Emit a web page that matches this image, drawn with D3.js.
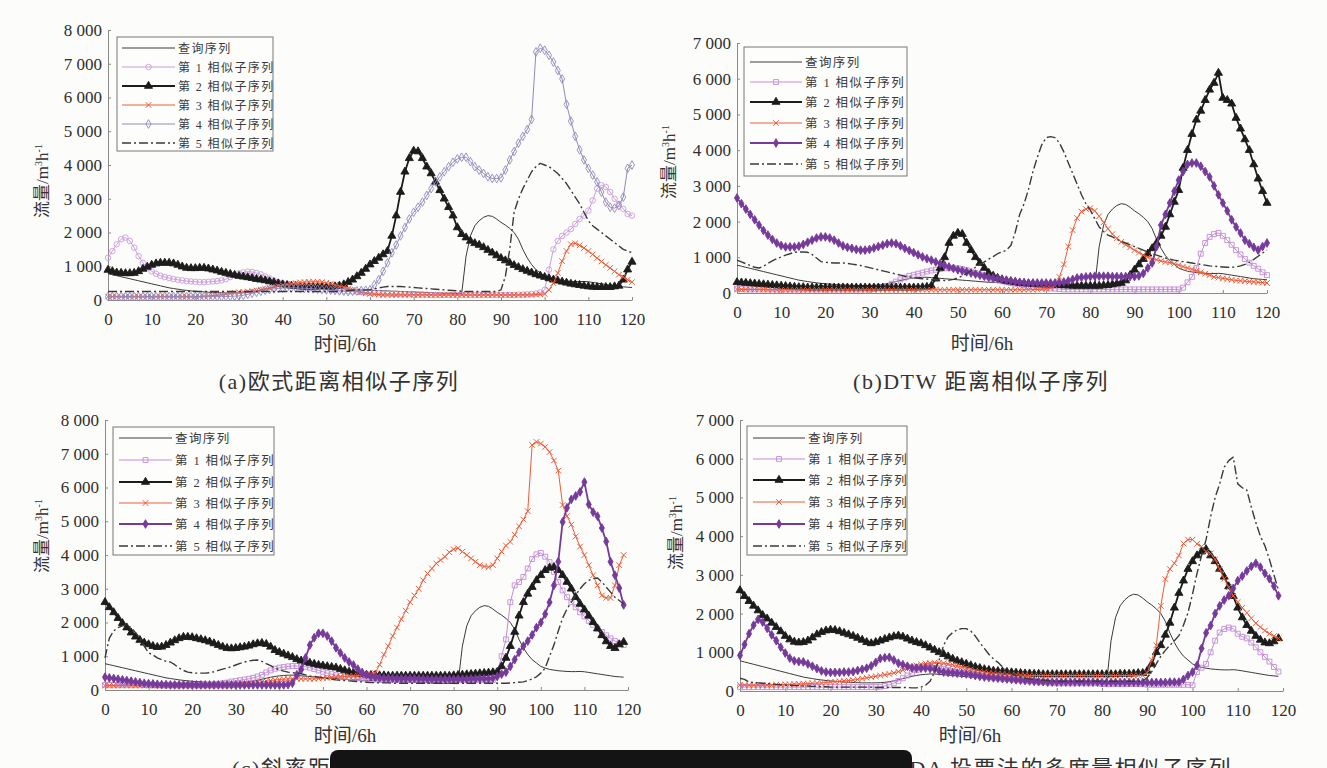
<!DOCTYPE html>
<html><head><meta charset="utf-8">
<script src="https://cdn.jsdelivr.net/npm/d3@7"></script>
<style>body{margin:0;background:#fcfcfa}svg{display:block}</style>
</head><body>
<svg id="chart" width="1327" height="768"></svg>
<script>
// ---------- data ----------
const xTicks = [0,10,20,30,40,50,60,70,80,90,100,110,120];
const yTicks8 = [0,1000,2000,3000,4000,5000,6000,7000,8000];
const yTicks7 = [0,1000,2000,3000,4000,5000,6000,7000];
const legendLabels = ["查询序列","第 1 相似子序列","第 2 相似子序列","第 3 相似子序列","第 4 相似子序列","第 5 相似子序列"];
const captions = ["(a)欧式距离相似子序列","(b)DTW 距离相似子序列","(c)斜率距离相似子序列","(d)LDA 投票法的多度量相似子序列"];
const xTitle = "时间/6h";

const query = [780,750,720,690,660,630,600,570,540,510,
480,450,420,390,360,340,320,300,285,270,
260,250,240,230,225,220,215,210,210,210,
210,215,225,240,260,290,320,350,380,400,
420,430,440,440,430,420,410,400,390,380,
370,360,350,340,330,320,310,300,300,290,
290,280,280,270,270,260,260,250,250,240,
240,230,230,220,220,210,210,200,200,200,
190,190,1300,1900,2200,2350,2450,2500,2480,2400,
2300,2220,2120,2000,1800,1500,1250,1050,900,800,
700,650,610,590,570,560,550,545,545,550,
540,520,500,480,460,440,420,400,390,380,370];

const a1 = [1250,1450,1650,1800,1850,1750,1550,1300,1100,950,
850,780,720,680,650,620,600,580,560,550,
540,530,530,540,550,560,580,620,680,740,
790,820,840,830,800,760,700,640,580,530,
490,460,430,410,390,370,350,340,330,320,
310,300,290,280,270,260,250,240,230,220,
210,200,200,190,190,180,180,170,170,170,
160,160,160,160,150,150,150,150,150,150,
150,150,150,150,150,150,150,150,150,150,
150,150,150,150,160,160,170,180,190,220,
300,900,1500,1750,1900,2000,2100,2250,2400,2500,
2650,2950,3300,3400,3350,3200,3000,2850,2700,2550,2500];
const a2 = [890,850,810,800,790,790,800,850,920,980,
1040,1080,1100,1100,1100,1080,1040,990,950,940,
940,950,950,930,900,870,830,800,770,740,
710,690,670,650,620,600,580,550,520,490,
460,440,420,410,400,390,390,380,380,380,
380,390,400,420,460,530,600,700,800,920,
1050,1150,1250,1350,1450,1900,2500,3200,3800,4200,
4420,4400,4200,3950,3750,3500,3250,3000,2750,2500,
2150,1950,1850,1750,1680,1630,1560,1480,1400,1320,
1240,1170,1100,1030,970,910,860,810,760,720,
680,640,600,570,540,510,480,460,440,420,
400,390,380,380,380,380,400,420,600,900,1130];
const a3 = [100,100,100,100,100,100,100,100,100,100,
100,100,100,100,100,100,100,100,100,100,
100,100,110,120,130,140,150,170,190,210,
230,240,250,260,280,300,330,360,390,420,
440,460,480,500,520,530,540,540,540,530,
510,480,450,410,380,340,300,260,230,200,
180,170,160,150,150,150,150,150,150,150,
150,150,150,150,150,150,150,150,150,150,
150,150,150,150,150,150,150,150,150,150,
150,150,150,150,150,150,150,150,160,170,
180,300,500,800,1150,1450,1650,1680,1620,1540,
1450,1350,1240,1140,1040,950,850,750,680,600,530];
const a4 = [100,100,100,100,100,100,100,100,100,100,
100,100,100,100,100,100,100,100,100,100,
100,100,100,100,100,100,100,100,110,115,
120,140,170,200,230,260,290,310,330,340,
350,360,360,360,350,350,340,330,320,310,
300,290,280,270,260,250,260,270,280,290,
300,450,600,850,1100,1400,1630,1900,2150,2400,
2600,2750,2900,3100,3300,3500,3650,3800,3950,4080,
4180,4230,4230,4100,3950,3850,3750,3650,3600,3600,
3620,3850,4150,4400,4650,4850,5050,5350,7350,7460,
7400,7250,7050,6800,6550,5800,5300,4850,4450,4150,
3900,3700,3500,3200,2900,2750,2720,2800,3050,3900,4000];
const a5 = [250,250,250,250,250,250,250,250,250,250,
250,250,250,250,250,250,250,250,250,250,
250,250,250,250,250,250,250,250,250,250,
250,250,250,250,250,250,250,250,250,250,
250,250,250,250,250,250,250,250,250,250,
250,250,250,260,270,280,290,300,300,300,
300,330,360,380,400,400,400,400,390,380,
370,360,350,340,330,320,310,300,290,280,
270,260,250,250,250,250,250,250,250,250,
300,700,1500,2600,3000,3300,3550,3800,3950,4050,
4000,3950,3850,3750,3600,3450,3250,3050,2850,2600,
2350,2200,2100,2000,1900,1800,1700,1600,1500,1450,1400];

const b1 = [120,110,100,100,100,100,100,100,100,100,
100,100,100,100,100,100,100,100,100,100,
100,100,100,100,100,100,100,100,100,100,
100,110,130,160,200,260,320,380,430,480,
510,540,570,600,630,650,670,690,700,700,
690,670,640,600,560,520,480,440,400,360,
330,300,280,260,240,220,200,180,160,150,
140,130,120,110,100,100,100,100,100,100,
100,100,100,100,100,100,100,100,100,100,
100,100,100,100,100,100,100,100,100,100,
100,150,300,450,700,1100,1400,1570,1650,1680,
1600,1480,1350,1200,1080,950,850,760,680,580,500];
const b2 = [300,290,280,270,260,250,240,230,220,210,
200,190,180,170,160,160,150,150,150,150,
150,150,150,150,150,150,150,150,150,150,
150,150,150,150,150,150,150,150,150,150,
150,150,160,170,200,400,700,1000,1400,1600,
1680,1650,1400,1200,1000,840,700,560,480,420,
380,340,320,300,280,270,260,250,240,240,
230,230,220,220,210,210,200,200,200,200,
200,200,200,210,220,240,260,280,350,500,
650,800,950,1100,1250,1400,1600,1850,2200,2550,
2880,3500,4000,4450,4850,5100,5400,5690,5880,6160,
5460,5400,5300,4900,4600,4300,4000,3600,3200,2850,2520];
const b3 = [100,100,100,100,100,100,100,90,90,90,
90,90,90,90,90,90,90,90,90,90,
90,90,90,90,90,90,90,90,90,90,
90,90,90,90,90,90,90,90,90,90,
90,90,90,90,90,90,90,90,90,90,
90,90,90,90,90,90,90,90,90,90,
90,90,90,90,90,90,90,90,100,110,
120,140,200,450,800,1300,1760,2100,2280,2350,
2380,2300,2150,1980,1800,1650,1530,1430,1350,1280,
1200,1130,1060,1000,960,930,900,870,850,820,
780,740,700,660,620,580,540,500,450,430,
410,390,370,350,340,330,320,310,300,290,280];
const b4 = [2660,2500,2350,2200,2050,1900,1750,1620,1500,1400,
1330,1290,1290,1290,1310,1360,1420,1480,1540,1570,
1570,1540,1480,1400,1320,1280,1250,1220,1200,1200,
1220,1260,1300,1340,1380,1400,1380,1320,1250,1190,
1130,1070,1010,960,920,870,820,780,730,690,
650,620,590,560,530,500,470,440,420,400,
380,360,340,320,300,290,280,280,280,280,
280,280,280,290,310,340,380,420,440,450,
460,470,470,470,470,460,460,460,460,460,
460,480,550,700,840,1300,1900,2200,2520,2850,
3160,3400,3600,3640,3640,3550,3400,3250,3000,2750,
2520,2300,2050,1850,1680,1480,1380,1280,1200,1300,1400];
const b5 = [920,870,820,770,720,700,750,830,900,960,
1010,1060,1100,1140,1150,1150,1140,1080,980,880,
860,850,840,840,840,830,810,790,770,740,
710,680,650,620,590,560,530,500,470,450,
430,410,400,390,380,370,360,350,360,380,
420,480,550,630,720,800,870,950,1020,1100,
1150,1200,1330,1700,2200,2500,2900,3400,3800,4150,
4350,4380,4350,4200,3950,3650,3350,3050,2750,2500,
2320,2080,1850,1720,1620,1570,1500,1450,1400,1350,
1300,1250,1200,1150,1100,1060,1020,980,950,920,
900,880,860,840,820,800,780,760,750,740,
730,720,720,730,760,800,860,940,1030,1120,1200];

const c1 = [150,150,150,150,150,150,150,150,150,150,
150,150,150,150,150,150,150,150,150,150,
150,150,150,150,160,170,180,200,220,250,
270,290,310,330,360,400,450,520,580,630,
660,680,700,710,710,700,690,660,620,580,
540,500,470,440,420,400,380,360,350,340,
330,320,310,300,300,300,300,300,300,300,
300,300,300,300,300,300,300,300,300,300,
300,300,300,300,300,300,300,300,300,300,
550,1000,1500,2600,3100,3200,3350,3600,3880,4020,
4060,3950,3790,3500,3200,2950,2750,2600,2450,2300,
2180,2050,1930,1820,1720,1620,1530,1450,1380,1330];
const c2 = [2600,2450,2300,2130,1980,1850,1700,1580,1480,1400,
1350,1300,1270,1280,1330,1400,1470,1530,1570,1570,
1560,1530,1500,1470,1430,1380,1330,1280,1240,1230,
1240,1260,1280,1310,1350,1380,1390,1360,1280,1180,
1120,1070,1020,970,910,870,830,800,770,740,
720,700,680,660,620,580,540,510,480,460,
450,440,440,430,430,420,420,420,420,420,
420,420,420,420,420,420,420,420,420,420,
430,440,450,460,470,480,490,500,510,520,
530,700,950,1300,1720,2200,2600,2850,3050,3250,
3400,3550,3620,3640,3550,3400,3200,3000,2750,2550,
2380,2200,2010,1820,1620,1440,1300,1240,1350,1420];
const c3 = [130,130,130,130,130,130,130,130,130,130,
130,130,130,130,130,130,130,130,130,130,
130,130,130,130,130,130,130,130,130,140,
150,160,170,180,200,220,240,260,280,300,
310,320,330,330,330,330,330,330,330,340,
350,360,370,380,390,400,410,420,430,440,
450,470,500,750,1050,1300,1600,1850,2100,2350,
2600,2800,3000,3250,3450,3600,3750,3850,3950,4080,
4170,4200,4100,4000,3900,3800,3700,3660,3640,3700,
3900,4100,4280,4390,4600,4850,5050,5300,7260,7350,
7300,7200,7050,6800,6500,5480,5150,4900,4550,4250,
4000,3700,3400,3100,2800,2730,2730,3100,3700,4000];
const c4 = [380,360,340,320,300,280,260,240,220,200,
190,180,170,160,160,150,150,150,150,150,
150,150,150,150,150,150,150,150,150,150,
150,150,150,150,150,150,150,150,150,150,
150,150,160,200,450,600,950,1330,1550,1680,
1680,1600,1450,1250,1100,950,830,740,620,520,
450,400,380,360,350,350,350,340,340,340,
340,340,330,330,320,320,320,320,320,320,
320,320,320,320,330,330,340,340,340,350,
400,470,530,700,900,1120,1300,1450,1630,1850,
2000,2250,2600,3100,3800,4980,5400,5650,5750,5870,
6160,5500,5270,5150,4800,4400,3800,3400,3020,2520];
const c5 = [950,1540,1750,1850,1900,1930,1850,1700,1540,1300,
1100,1040,950,900,850,830,750,650,580,530,
510,500,500,500,510,540,580,620,650,690,
740,790,830,860,880,890,850,780,720,650,
600,560,530,510,500,480,450,420,400,380,
360,340,320,300,290,280,270,260,250,240,
230,220,220,210,210,210,200,200,200,200,
200,200,200,200,200,200,200,200,200,200,
200,200,200,200,200,200,200,200,200,200,
200,200,200,210,220,230,240,280,330,390,
500,650,1000,1330,1750,2130,2400,2600,2810,3000,
3150,3250,3300,3320,3200,3050,2900,2750,2650,2550];

const d1 = [100,100,100,100,100,100,100,100,100,100,
100,100,100,100,100,100,100,100,100,100,
100,100,100,100,100,100,100,100,100,100,
100,110,130,160,200,260,330,400,470,540,
600,640,660,660,650,630,600,570,540,510,
480,450,420,400,380,360,340,330,320,310,
300,290,280,270,260,250,240,230,220,210,
200,200,200,200,200,200,200,200,200,200,
180,180,180,180,180,180,180,180,180,180,
160,160,160,160,160,160,160,160,160,160,
150,490,600,700,1000,1300,1510,1600,1640,1610,
1480,1400,1360,1250,1130,1000,880,760,620,500];
const d2 = [2600,2450,2320,2200,2080,1960,1870,1760,1650,1540,
1420,1330,1270,1250,1260,1300,1380,1460,1520,1560,
1580,1570,1540,1500,1460,1420,1370,1320,1260,1230,
1260,1300,1340,1380,1410,1430,1400,1350,1300,1260,
1230,1180,1120,1060,1000,950,890,830,780,740,
700,660,620,590,560,540,520,510,500,490,
480,470,460,450,450,440,440,430,430,430,
430,430,430,430,430,430,430,430,430,430,
430,430,430,430,440,440,440,450,460,460,
520,700,1000,1180,1450,1760,2150,2530,2850,3150,
3350,3500,3600,3660,3500,3350,3150,2950,2700,2450,
2150,1900,1700,1550,1420,1320,1250,1230,1280,1360];
const d3v = [150,150,150,150,150,150,150,150,160,160,
170,170,180,180,190,190,200,200,210,220,
230,240,250,260,270,280,300,320,340,360,
380,400,420,440,470,500,540,580,630,660,
690,710,720,730,730,720,700,680,650,620,
590,560,530,510,490,470,460,450,440,430,
420,420,410,410,400,400,400,400,400,400,
400,400,400,400,400,400,400,400,400,400,
400,400,400,400,400,400,400,400,400,400,
470,800,1180,2200,2890,3150,3300,3500,3810,3910,
3910,3800,3730,3600,3550,3400,3150,2900,2680,2460,
2300,2150,2020,1880,1750,1650,1560,1480,1420,1360];
const d4 = [920,1200,1480,1700,1850,1780,1620,1450,1300,1130,
980,850,780,760,750,700,640,580,520,490,
480,480,480,490,490,500,530,560,590,650,
740,840,860,870,800,720,680,640,600,590,
590,590,580,560,520,490,480,470,460,450,
440,420,400,380,360,350,340,330,320,310,
300,290,280,270,260,250,240,240,230,230,
230,230,230,230,230,230,230,230,230,230,
220,220,220,220,220,220,220,220,220,220,
220,220,220,220,220,230,230,230,300,400,
490,660,1100,1500,1690,2000,2200,2350,2460,2650,
2850,2970,3100,3220,3300,3200,3040,2900,2710,2460];
const d5 = [330,300,230,220,210,200,190,180,170,160,
150,150,140,140,130,130,120,120,110,110,
100,100,100,100,100,100,100,100,100,100,
90,90,90,90,90,90,90,90,80,80,
100,150,250,490,800,1180,1400,1510,1580,1610,
1610,1550,1420,1250,1100,950,830,740,620,520,
450,400,360,330,310,300,290,280,270,260,
250,250,250,250,250,250,250,250,250,250,
250,250,250,250,250,250,250,250,250,250,
350,500,700,900,1050,1180,1300,1430,1700,2020,
2500,3040,3500,3910,4500,5000,5350,5780,5950,6040,
5350,5250,5190,4750,4350,4000,3750,3400,3000,2600];

// ---------- styles ----------
const baseStyles = [
  {color:'#3a3a3a', w:1},
  {color:'#c48cd8', w:1, marker:'square', fill:'none'},
  {color:'#1c1c1c', w:1.8, marker:'triangle', fill:'#1c1c1c'},
  {color:'#ee5c3a', w:1, marker:'x'},
  {color:'#763a9a', w:1.8, marker:'diamond', fill:'#763a9a'},
  {color:'#3a3a3a', w:1.4, dash:'9,3,2,3'}
];
const stylesA = baseStyles.map((s,i)=> i===1 ? {color:'#cc9ddc', w:1, marker:'circle', fill:'none'}
                                 : i===4 ? {color:'#9488bd', w:1, marker:'diamond', fill:'none'} : s);

const panels = [
  {x0:108,x1:632,yb:300,yt:30,yMax:8000,yTicks:yTicks8,series:[query,a1,a2,a3,a4,a5],styles:stylesA,
   leg:{x:117,y:37,w:156,h:114,rows:[48,67,86,105,124,143],lx0:122,lx1:175,tx:178,fs:12},
   ylab:[42,181], xlab:[345,351], cap:[339,389,0]},
  {x0:737,x1:1267,yb:293,yt:43,yMax:7000,yTicks:yTicks7,series:[query,b1,b2,b3,b4,b5],styles:baseStyles,
   leg:{x:744,y:47,w:163,h:129,rows:[62,82,102,123,143,164],lx0:750,lx1:802,tx:805,fs:12.5},
   ylab:[669,162], xlab:[982,350], cap:[981,389,1]},
  {x0:105,x1:628,yb:690,yt:420,yMax:8000,yTicks:yTicks8,series:[query.slice(0,120),c1,c2,c3,c4,c5],styles:baseStyles,
   leg:{x:113,y:427,w:161,h:128,rows:[438,460,482,503,524,546],lx0:119,lx1:172,tx:175,fs:12.5},
   ylab:[42,536], xlab:[345,742]},
  {x0:740,x1:1283,yb:691,yt:420,yMax:7000,yTicks:yTicks7,series:[query.slice(0,120),d1,d2,d3v,d4,d5],styles:baseStyles,
   leg:{x:747,y:426,w:160,h:129,rows:[438,459,480,502,524,546],lx0:753,lx1:805,tx:808,fs:12.5},
   ylab:[676,533], xlab:[970,742]}
];

const svg = d3.select('#chart');
svg.append('rect').attr('width',1327).attr('height',768).attr('fill','#fcfcfa');
const serif = "'Liberation Serif','Times New Roman','Noto Sans CJK SC',serif";
const fmt = v => v===0 ? '0' : d3.format(',')(v).replace(/,/g,' ');

function markerPath(type){
  if(type==='square') return d3.symbol(d3.symbolSquare, 24)();
  if(type==='circle') return d3.symbol(d3.symbolCircle, 24)();
  if(type==='triangle') return d3.symbol(d3.symbolTriangle, 28)();
  if(type==='diamond') return d3.symbol(d3.symbolDiamond, 22)();
  if(type==='x') return 'M-2.8,-2.8L2.8,2.8M-2.8,2.8L2.8,-2.8';
  return null;
}
function drawMarkers(g, pts, st){
  if(!st.marker) return;
  const p = markerPath(st.marker);
  g.selectAll(null).data(pts).join('path')
    .attr('transform', d=>`translate(${d[0]},${d[1]})`)
    .attr('d', p)
    .attr('fill', st.marker==='x' ? 'none' : st.fill)
    .attr('stroke', st.color)
    .attr('stroke-width', st.marker==='x' ? 1 : 0.9);
}

panels.forEach(P=>{
  const g = svg.append('g');
  const x = d3.scaleLinear().domain([0,120]).range([P.x0,P.x1]);
  const y = d3.scaleLinear().domain([0,P.yMax]).range([P.yb,P.yt]);

  // axes
  const ax = g.append('g').attr('transform',`translate(0,${P.yb})`)
    .call(d3.axisBottom(x).tickValues(xTicks).tickSize(-3).tickPadding(13).tickSizeOuter(0));
  const ay = g.append('g').attr('transform',`translate(${P.x0},0)`)
    .call(d3.axisLeft(y).tickValues(P.yTicks).tickFormat(fmt).tickSize(-3).tickPadding(6).tickSizeOuter(0));
  [ax,ay].forEach(a=>{
    a.select('.domain').attr('stroke','#8a8a8a').attr('stroke-width',1);
    a.selectAll('.tick line').attr('stroke','#8a8a8a');
    a.selectAll('text').attr('fill','#2e2e2e').style('font-family',serif).style('font-size','17px');
  });

  // series
  const line = d3.line().x((d,i)=>x(i)).y(d=>y(d));
  P.series.forEach((vals,k)=>{
    const st = P.styles[k];
    g.append('path').datum(vals).attr('d',line).attr('fill','none')
      .attr('stroke',st.color).attr('stroke-width',st.w)
      .attr('stroke-dasharray',st.dash||null).attr('stroke-linejoin','round');
    drawMarkers(g, vals.map((v,i)=>[x(i),y(v)]), st);
  });

  // legend
  const L = P.leg;
  const lg = svg.append('g');
  lg.append('rect').attr('x',L.x).attr('y',L.y).attr('width',L.w).attr('height',L.h)
    .attr('fill','#fdfdfc').attr('stroke','#777').attr('stroke-width',1);
  legendLabels.forEach((lab,k)=>{
    const st = P.styles[k], ry = L.rows[k];
    lg.append('line').attr('x1',L.lx0).attr('x2',L.lx1).attr('y1',ry).attr('y2',ry)
      .attr('stroke',st.color).attr('stroke-width',st.w).attr('stroke-dasharray',st.dash||null);
    drawMarkers(lg, [[(L.lx0+L.lx1)/2, ry]], st);
    lg.append('text').attr('x',L.tx).attr('y',ry+4.5).text(lab)
      .attr('fill','#3a3a3a').style('font-family',serif).style('font-size',L.fs+'px')
      .style('letter-spacing','1.4px');
  });

  // axis titles
  const yl = svg.append('text').attr('transform',`translate(${P.ylab[0]},${P.ylab[1]}) rotate(-90)`)
    .attr('text-anchor','middle').attr('dy','0.35em').attr('fill','#333')
    .style('font-family',serif).style('font-size','17px');
  yl.append('tspan').text('流量/m');
  yl.append('tspan').text('3').attr('dy','-6').style('font-size','10px');
  yl.append('tspan').text('h').attr('dy','6');
  yl.append('tspan').text('-1').attr('dy','-6').style('font-size','10px');

  svg.append('text').attr('x',P.xlab[0]).attr('y',P.xlab[1]).attr('text-anchor','middle')
    .text(xTitle).attr('fill','#333').style('font-family',serif).style('font-size','19px');

  if(P.cap){
    svg.append('text').attr('x',P.cap[0]).attr('y',P.cap[1]).attr('text-anchor','middle')
      .text(captions[P.cap[2]]).attr('fill','#333').style('font-family',serif)
      .style('font-size','22px').style('letter-spacing','1.5px');
  }
});

// bottom captions (partly cut off by the window edge, as in the reference) and the black overlay box
svg.append('text').attr('x',232).attr('y',776).text(captions[2]).attr('fill','#333')
  .style('font-family',serif).style('font-size','22px').style('letter-spacing','1.5px');
svg.append('text').attr('x',1232).attr('y',776).attr('text-anchor','end').text(captions[3]).attr('fill','#333')
  .style('font-family',serif).style('font-size','22px').style('letter-spacing','1.5px');
svg.append('rect').attr('x',330).attr('y',750).attr('width',582).attr('height',40).attr('rx',8)
  .attr('fill','#141414');
</script>
</body></html>
